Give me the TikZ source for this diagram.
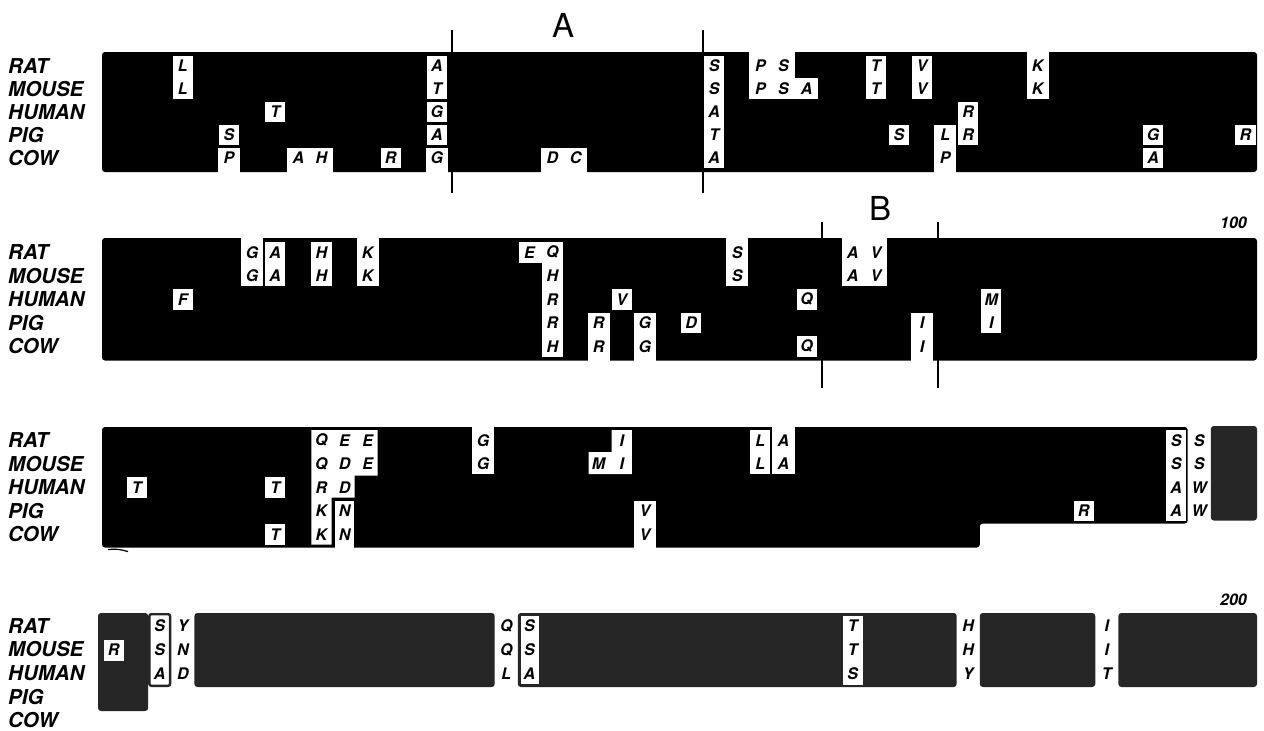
\documentclass[tikz,border=0pt]{standalone}
\usepackage{fontspec}
\setmainfont{TeX Gyre Heros}
\tikzset{
 res/.style={font=\fontsize{16}{16}\selectfont\bfseries\itshape, inner sep=0pt},
 lab/.style={anchor=west, font=\fontsize{20.5}{20.5}\selectfont\bfseries\itshape, inner sep=0pt},
 num/.style={anchor=east, font=\fontsize{16}{16}\selectfont\bfseries\itshape, inner sep=0pt},
 region/.style={font=\fontsize{33}{33}\selectfont, inner sep=0pt},
 blackblk/.style={fill=black, rounded corners=3pt},
 grayblk/.style={fill=black!85, rounded corners=3pt},
 divider/.style={line width=2.5pt},
}
\newcommand\setblk[4]{\def\bB{#1}\def\bT{#2}\def\bO{#3}\def\bP{#4}}
\newcommand\wbox[4]{\fill[white] ({102+23.1*#1+1.5},{\bT+\bO+\bP*#3+1.5}) rectangle ({102+23.1*(#2+1)-1.5},{\bT+\bO+\bP*(#4+1)-1.5});}
\newcommand\ntop[3]{\fill[white] ({102+23.1*#1+0.5},{\bT-3}) rectangle ({102+23.1*(#2+1)-0.5},{\bT+\bO+\bP*#3-1.5});}
\newcommand\nbot[3]{\fill[white] ({102+23.1*#1+0.5},{\bT+\bO+\bP*#3+1.5}) rectangle ({102+23.1*(#2+1)-0.5},{\bT+2*\bO+5*\bP+3});}
\newcommand\rs[3]{\node[res] (r\bB-#1-#2) at ({102+23.1*(#1+0.5)},{\bT+\bO+\bP*(#2+0.5)}) {#3};}
\newcommand\specieslabels{\foreach \nm [count=\i from 0] in {RAT,MOUSE,HUMAN,PIG,COW} {\node[lab] (l\bB-\nm) at (8,{\bT+\bO+\bP*(\i+0.5)}) {\nm};}}
\begin{document}
\begin{tikzpicture}[x=1pt,y=-1pt]
\fill[white] (0,0) rectangle (1264,731);
\useasboundingbox (0,0) rectangle (1264,731);
% ---------------- block 1
\setblk{1}{52}{2.5}{23}
\fill[blackblk] (102,\bT) rectangle (1257,{\bT+2*\bO+5*\bP});
\wbox{3}{3}{0}{1} \wbox{7}{7}{2}{2} \wbox{5}{5}{3}{3} \wbox{12}{12}{4}{4}
\wbox{14}{14}{0}{1} \wbox{14}{14}{2}{2} \wbox{14}{14}{3}{3}
\wbox{26}{26}{0}{4}
\wbox{33}{33}{0}{1} \wbox{35}{35}{0}{1} \wbox{34}{34}{3}{3} \wbox{37}{37}{2}{3}
\wbox{45}{45}{3}{3} \wbox{45}{45}{4}{4} \wbox{49}{49}{3}{3}
\nbot{5}{5}{4} \nbot{8}{9}{4} \nbot{14}{14}{4} \nbot{19}{20}{4} \nbot{36}{36}{3}
\ntop{28}{29}{2} \ntop{40}{40}{2}
\fill[white] ({102+23.1*30-1},{\bT+\bO+\bP*1}) rectangle ({102+23.1*31-0.5},{\bT+\bO+\bP*2-1.5});
\draw[divider] (452,30) -- (452,193);
\draw[divider] (703,30) -- (703,193);
\node[region] (regA) at (563,25) {A};
\specieslabels
\rs{3}{0}{L} \rs{14}{0}{A} \rs{26}{0}{S} \rs{28}{0}{P} \rs{29}{0}{S} \rs{33}{0}{T} \rs{35}{0}{V} \rs{40}{0}{K}
\rs{3}{1}{L} \rs{14}{1}{T} \rs{26}{1}{S} \rs{28}{1}{P} \rs{29}{1}{S} \rs{30}{1}{A} \rs{33}{1}{T} \rs{35}{1}{V} \rs{40}{1}{K}
\rs{7}{2}{T} \rs{14}{2}{G} \rs{26}{2}{A} \rs{37}{2}{R}
\rs{5}{3}{S} \rs{14}{3}{A} \rs{26}{3}{T} \rs{34}{3}{S} \rs{36}{3}{L} \rs{37}{3}{R} \rs{45}{3}{G} \rs{49}{3}{R}
\rs{5}{4}{P} \rs{8}{4}{A} \rs{9}{4}{H} \rs{12}{4}{R} \rs{14}{4}{G} \rs{19}{4}{D} \rs{20}{4}{C} \rs{26}{4}{A} \rs{36}{4}{P} \rs{45}{4}{A}
% ---------------- block 2
\setblk{2}{238}{2.5}{23.5}
\fill[blackblk] (102,\bT) rectangle (1257,{\bT+2*\bO+5*\bP});
\wbox{3}{3}{2}{2} \wbox{7}{7}{0}{1} \wbox{9}{9}{0}{1} \wbox{22}{22}{2}{2} \wbox{25}{25}{3}{3}
\wbox{30}{30}{2}{2} \wbox{30}{30}{4}{4} \wbox{38}{38}{2}{3}
\wbox{18}{19}{0}{0} \wbox{19}{19}{0}{4}
\ntop{6}{6}{2} \ntop{11}{11}{2} \ntop{27}{27}{2} \ntop{32}{33}{2}
\nbot{21}{21}{3} \nbot{23}{23}{3} \nbot{35}{35}{3}
\draw[divider] (822,222) -- (822,388);
\draw[divider] (938,222) -- (938,388);
\node[region] (regB) at (880,208) {B};
\node[num] (n100) at (1247,223) {100};
\specieslabels
\rs{6}{0}{G} \rs{7}{0}{A} \rs{9}{0}{H} \rs{11}{0}{K} \rs{18}{0}{E} \rs{19}{0}{Q} \rs{27}{0}{S} \rs{32}{0}{A} \rs{33}{0}{V}
\rs{6}{1}{G} \rs{7}{1}{A} \rs{9}{1}{H} \rs{11}{1}{K} \rs{19}{1}{H} \rs{27}{1}{S} \rs{32}{1}{A} \rs{33}{1}{V}
\rs{3}{2}{F} \rs{19}{2}{R} \rs{22}{2}{V} \rs{30}{2}{Q} \rs{38}{2}{M}
\rs{19}{3}{R} \rs{21}{3}{R} \rs{23}{3}{G} \rs{25}{3}{D} \rs{35}{3}{I} \rs{38}{3}{I}
\rs{19}{4}{H} \rs{21}{4}{R} \rs{23}{4}{G} \rs{30}{4}{Q} \rs{35}{4}{I}
% ---------------- block 3
\setblk{3}{427}{1.5}{23.5}
\fill[blackblk] (102,\bT) -- ({102+23.1*47},\bT) -- ({102+23.1*47},{\bT+\bO+4*\bP+1}) -- ({102+23.1*38},{\bT+\bO+4*\bP+1}) -- ({102+23.1*38},{\bT+2*\bO+5*\bP}) -- (102,{\bT+2*\bO+5*\bP}) -- cycle;
\fill[grayblk] ({102+23.1*48},{\bT-1}) rectangle (1257,{\bT+\bO+4*\bP-2});
\wbox{1}{1}{2}{2} \wbox{7}{7}{2}{2} \wbox{7}{7}{4}{4} \wbox{28}{28}{0}{1} \wbox{42}{42}{3}{3} \wbox{46}{46}{0}{3}
\fill[white] ({102+23.1*9+1.5},{\bT+\bO+1.5}) -- ({102+23.1*12-1.5},{\bT+\bO+1.5}) -- ({102+23.1*12-1.5},{\bT+\bO+2*\bP}) -- ({102+23.1*11-1.5},{\bT+\bO+2*\bP}) -- ({102+23.1*11-1.5},{\bT+\bO+3*\bP-1.5}) -- ({102+23.1*10-1.5},{\bT+\bO+3*\bP-1.5}) -- ({102+23.1*10-1.5},{\bT+\bO+5*\bP-1.5}) -- ({102+23.1*9+1.5},{\bT+\bO+5*\bP-1.5}) -- cycle;
\fill[white] ({102+23.1*10+1.5},{\bT+\bO+3*\bP+1.5}) rectangle ({102+23.1*11-2},{\bT+2*\bO+5*\bP+3});
\fill[white] ({102+23.1*22+1.5},{\bT+\bO+1.5}) -- ({102+23.1*23-1.5},{\bT+\bO+1.5}) -- ({102+23.1*23-1.5},{\bT+\bO+2*\bP-1.5}) -- ({102+23.1*21+1.5},{\bT+\bO+2*\bP-1.5}) -- ({102+23.1*21+1.5},{\bT+\bO+\bP}) -- ({102+23.1*22+1.5},{\bT+\bO+\bP}) -- cycle;
\ntop{16}{16}{2} \ntop{29}{29}{2}
\nbot{23}{23}{3}
\draw[line width=1.2pt] (108,549.5) .. controls (118,549) .. (128,551.5);
\specieslabels
\rs{9}{0}{Q} \rs{10}{0}{E} \rs{11}{0}{E} \rs{16}{0}{G} \rs{22}{0}{I} \rs{28}{0}{L} \rs{29}{0}{A} \rs{46}{0}{S} \rs{47}{0}{S}
\rs{9}{1}{Q} \rs{10}{1}{D} \rs{11}{1}{E} \rs{16}{1}{G} \rs{21}{1}{M} \rs{22}{1}{I} \rs{28}{1}{L} \rs{29}{1}{A} \rs{46}{1}{S} \rs{47}{1}{S}
\rs{1}{2}{T} \rs{7}{2}{T} \rs{9}{2}{R} \rs{10}{2}{D} \rs{46}{2}{A} \rs{47}{2}{W}
\rs{9}{3}{K} \rs{10}{3}{N} \rs{23}{3}{V} \rs{42}{3}{R} \rs{46}{3}{A} \rs{47}{3}{W}
\rs{7}{4}{T} \rs{9}{4}{K} \rs{10}{4}{N} \rs{23}{4}{V}
% ---------------- block 4
\setblk{4}{613}{1}{24}
\fill[grayblk] (98,\bT) rectangle ({102+23.1*2},{\bT+2*\bO+4*\bP});
\wbox{0}{0}{1}{1}
\filldraw[fill=white, draw=black!85, line width=2.4pt, rounded corners=2pt] ({102+23.1*2+1.2},{\bT+1.2}) rectangle ({102+23.1*3-1.2},{\bT+2*\bO+3*\bP-1.2});
\fill[grayblk] ({102+23.1*4},\bT) rectangle ({102+23.1*17},{\bT+2*\bO+3*\bP});
\fill[grayblk] ({102+23.1*18},\bT) rectangle ({102+23.1*37},{\bT+2*\bO+3*\bP});
\fill[white] ({102+23.1*18+3},{\bT+3}) rectangle ({102+23.1*19-1.5},{\bT+2*\bO+3*\bP-3});
\wbox{32}{32}{0}{2}
\fill[grayblk] ({102+23.1*38},\bT) rectangle ({102+23.1*43},{\bT+2*\bO+3*\bP});
\fill[grayblk] ({102+23.1*44},\bT) rectangle (1257,{\bT+2*\bO+3*\bP});
\node[num] (n200) at (1247,600) {200};
\rs{2}{0}{S} \rs{3}{0}{Y} \rs{17}{0}{Q} \rs{18}{0}{S} \rs{32}{0}{T} \rs{37}{0}{H} \rs{43}{0}{I}
\rs{0}{1}{R} \rs{2}{1}{S} \rs{3}{1}{N} \rs{17}{1}{Q} \rs{18}{1}{S} \rs{32}{1}{T} \rs{37}{1}{H} \rs{43}{1}{I}
\rs{2}{2}{A} \rs{3}{2}{D} \rs{17}{2}{L} \rs{18}{2}{A} \rs{32}{2}{S} \rs{37}{2}{Y} \rs{43}{2}{T}
\def\bP{23.6}
\specieslabels
\end{tikzpicture}
\end{document}
